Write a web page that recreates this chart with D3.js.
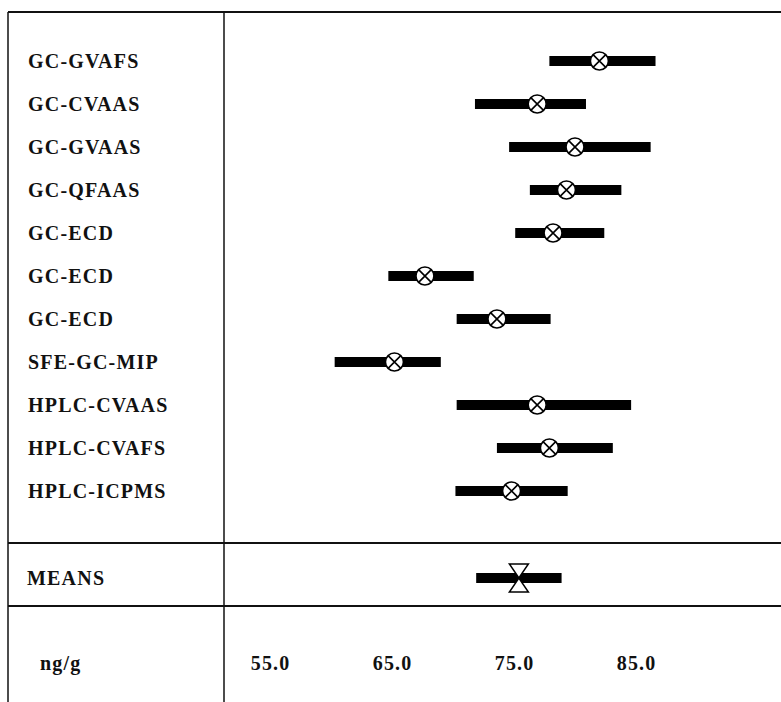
<!DOCTYPE html>
<html lang="en">
<head>
<meta charset="utf-8">
<script src="https://cdn.jsdelivr.net/npm/d3@7"></script>
<style>
  body { margin: 0; background: #fff; }
  svg { display: block; }
  text { font-family: "Liberation Serif", "DejaVu Serif", serif; font-weight: bold; fill: #111; letter-spacing: 1.2px; }
</style>
</head>
<body>
<script>
    // Methods and their results (ng/g): centre value, lower and upper end of the bar
    const methods = ['GC-GVAFS', 'GC-CVAAS', 'GC-GVAAS', 'GC-QFAAS', 'GC-ECD', 'GC-ECD',
                     'GC-ECD', 'SFE-GC-MIP', 'HPLC-CVAAS', 'HPLC-CVAFS', 'HPLC-ICPMS'];
    const centres = [82.0, 76.9, 80.0, 79.3, 78.2, 67.7, 73.6, 65.2, 76.9, 77.9, 74.8];
    const lows    = [77.9, 71.8, 74.6, 76.3, 75.1, 64.7, 70.3, 60.3, 70.3, 73.6, 70.2];
    const highs   = [86.6, 80.9, 86.2, 83.8, 82.4, 71.7, 78.0, 69.0, 84.6, 83.1, 79.4];

    // Mean of all methods
    const meanValue = [75.4];
    const meanLow = [71.9];
    const meanHigh = [78.9];

    const tickValues = [55, 65, 75, 85];
    const unitLabel = 'ng/g';

    const w = 781, h = 702;
    const frameLeft = 8, frameTop = 12, divider = 224;
    const meansLine = 543, axisLine = 606;

    const svg = d3.select('body').append('svg')
        .attr('width', w)
        .attr('height', h);

    const x = d3.scaleLinear()
        .domain([55, 85])
        .range([270, 636]);

    const y = d3.scalePoint()
        .domain(d3.range(methods.length))
        .range([61, 491]);

    // table frame
    const frame = svg.append('g').attr('stroke', '#111').attr('fill', 'none');
    frame.append('line').attr('x1', frameLeft).attr('x2', w).attr('y1', frameTop).attr('y2', frameTop).attr('stroke-width', 2);
    frame.append('line').attr('x1', frameLeft).attr('x2', frameLeft).attr('y1', frameTop).attr('y2', h).attr('stroke-width', 1.5);
    frame.append('line').attr('x1', divider).attr('x2', divider).attr('y1', frameTop).attr('y2', h).attr('stroke-width', 1.5);
    frame.append('line').attr('x1', frameLeft).attr('x2', w).attr('y1', meansLine).attr('y2', meansLine).attr('stroke-width', 2);
    frame.append('line').attr('x1', frameLeft).attr('x2', w).attr('y1', axisLine).attr('y2', axisLine).attr('stroke-width', 2);

    // method names
    svg.selectAll('text.method')
        .data(methods)
        .enter()
        .append('text')
        .attr('class', 'method')
        .attr('x', 28)
        .attr('y', (d, i) => y(i))
        .attr('dy', '0.35em')
        .style('font-size', '20px')
        .text(d => d);

    // bars
    svg.selectAll('rect.bar')
        .data(methods)
        .enter()
        .append('rect')
        .attr('class', 'bar')
        .attr('x', (d, i) => x(lows[i]))
        .attr('y', (d, i) => y(i) - 5)
        .attr('width', (d, i) => x(highs[i]) - x(lows[i]))
        .attr('height', 10)
        .attr('fill', '#000');

    // circled crosses
    const r = 9;
    const marks = svg.selectAll('g.mark')
        .data(methods)
        .enter()
        .append('g')
        .attr('class', 'mark')
        .attr('transform', (d, i) => `translate(${x(centres[i])},${y(i)})`);
    marks.append('circle')
        .attr('r', r)
        .attr('fill', '#fff')
        .attr('stroke', '#000')
        .attr('stroke-width', 1.6);
    const k = r * Math.SQRT1_2;
    marks.append('path')
        .attr('d', `M${-k},${-k}L${k},${k}M${k},${-k}L${-k},${k}`)
        .attr('stroke', '#000')
        .attr('stroke-width', 1.6);

    // means row
    const meanY = 578;
    svg.append('text')
        .attr('x', 27)
        .attr('y', meanY)
        .attr('dy', '0.35em')
        .style('font-size', '20px')
        .text('MEANS');
    svg.append('rect')
        .attr('x', x(meanLow[0]))
        .attr('y', meanY - 5)
        .attr('width', x(meanHigh[0]) - x(meanLow[0]))
        .attr('height', 10)
        .attr('fill', '#000');
    const mx = x(meanValue[0]);
    svg.append('path')
        .attr('d', `M${mx - 9.5},${meanY - 14}L${mx + 9.5},${meanY - 14}L${mx},${meanY}Z` +
                   `M${mx - 9.5},${meanY + 14}L${mx + 9.5},${meanY + 14}L${mx},${meanY}Z`)
        .attr('fill', '#fff')
        .attr('stroke', '#000')
        .attr('stroke-width', 1.5)
        .attr('stroke-linejoin', 'miter');

    // scale row
    svg.append('text')
        .attr('x', 40)
        .attr('y', 663)
        .attr('dy', '0.35em')
        .style('font-size', '20px')
        .text(unitLabel);
    svg.selectAll('text.tick')
        .data(tickValues)
        .enter()
        .append('text')
        .attr('class', 'tick')
        .attr('x', d => x(d) + 0.6)
        .attr('y', 663)
        .attr('dy', '0.35em')
        .attr('text-anchor', 'middle')
        .style('font-size', '20px')
        .text(d => d3.format('.1f')(d));
</script>
</body>
</html>
